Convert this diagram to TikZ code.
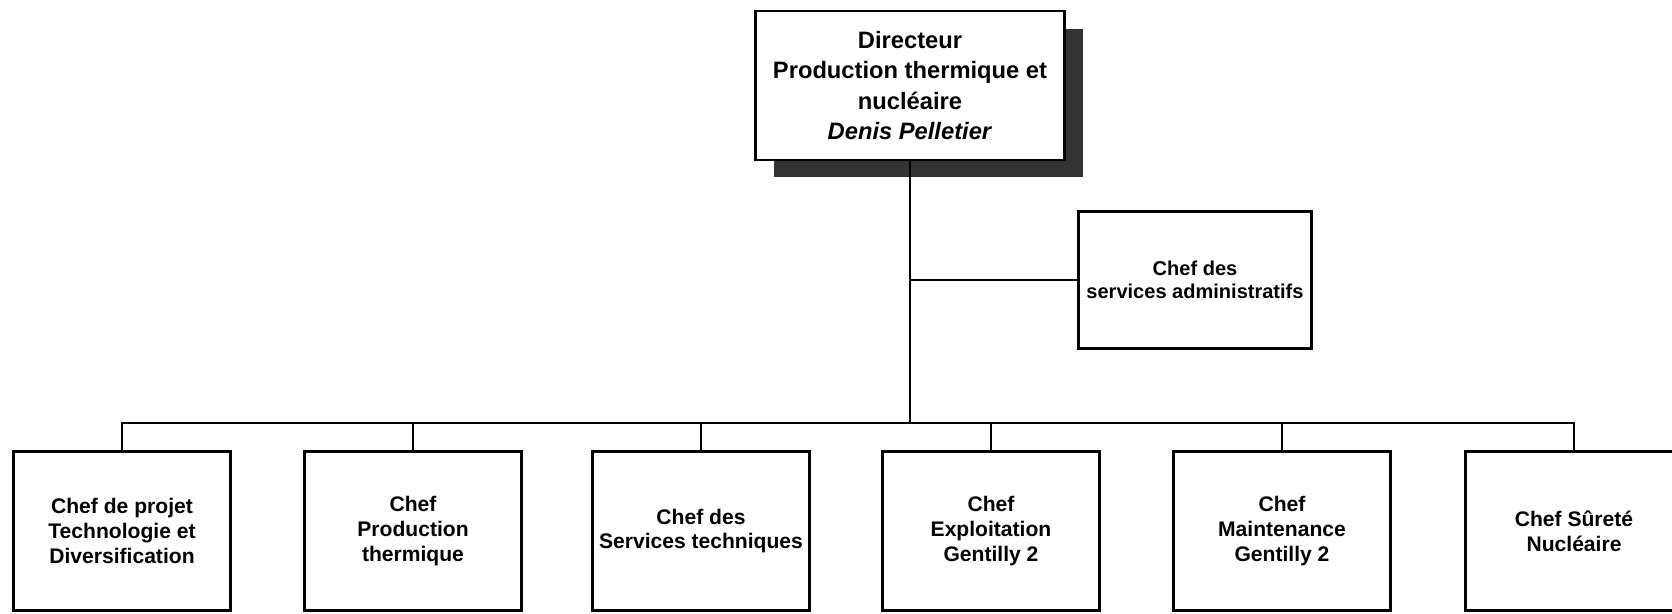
\documentclass[tikz,border=0pt]{standalone}
\usepackage{fontspec}
\setmainfont{Liberation Sans}
\usetikzlibrary{shadows}
\tikzset{
  poste/.style={draw, line width=1.6pt, fill=white, align=center, inner sep=0pt,
    font=\bfseries\fontsize{12}{14}\selectfont,
    minimum width=4.34cm, minimum height=3.18cm},
  lien/.style={line width=1.3pt},
}
\begin{document}
\begin{tikzpicture}[x=0.02cm, y=-0.02cm]
    \useasboundingbox (0,0) rectangle (1672,613);
    % direction
    \node[poste, minimum width=6.18cm, minimum height=2.98cm,
      font=\bfseries\fontsize{13.5}{17.4}\selectfont,
      drop shadow={shadow xshift=0.37cm, shadow yshift=-0.35cm, fill=black!80, opacity=1}]
      (dir) at (910,85.5) {Directeur\\Production thermique et\\nucléaire\\\textit{Denis Pelletier}};
    \node[poste, minimum width=4.66cm, minimum height=2.74cm,
      font=\bfseries\fontsize{11.4}{12.8}\selectfont]
      (adm) at (1195,280) {Chef des\\services administratifs};
    % chefs
    \node[poste] (tech) at (122,531) {Chef de projet\\Technologie et\\Diversification};
    \node[poste] (prod) at (413,531) {Chef\\Production\\thermique};
    \node[poste] (serv) at (701,531) {Chef des\\Services techniques};
    \node[poste] (expl) at (991,531) {Chef\\Exploitation\\Gentilly 2};
    \node[poste] (maint) at (1282,531) {Chef\\Maintenance\\Gentilly 2};
    \node[poste] (sur) at (1574,531) {Chef Sûreté\\Nucléaire};
    \coordinate (bus) at (910,423);
    \draw[lien] (dir.south) -- (bus);
    \draw[lien] (adm.west) -- (adm.west -| dir.south);
    \draw[lien] (tech.north) |- (bus);
    \draw[lien] (prod.north) |- (bus);
    \draw[lien] (serv.north) |- (bus);
    \draw[lien] (expl.north) |- (bus);
    \draw[lien] (maint.north) |- (bus);
    \draw[lien] (sur.north) |- (bus);
\end{tikzpicture}
\end{document}
